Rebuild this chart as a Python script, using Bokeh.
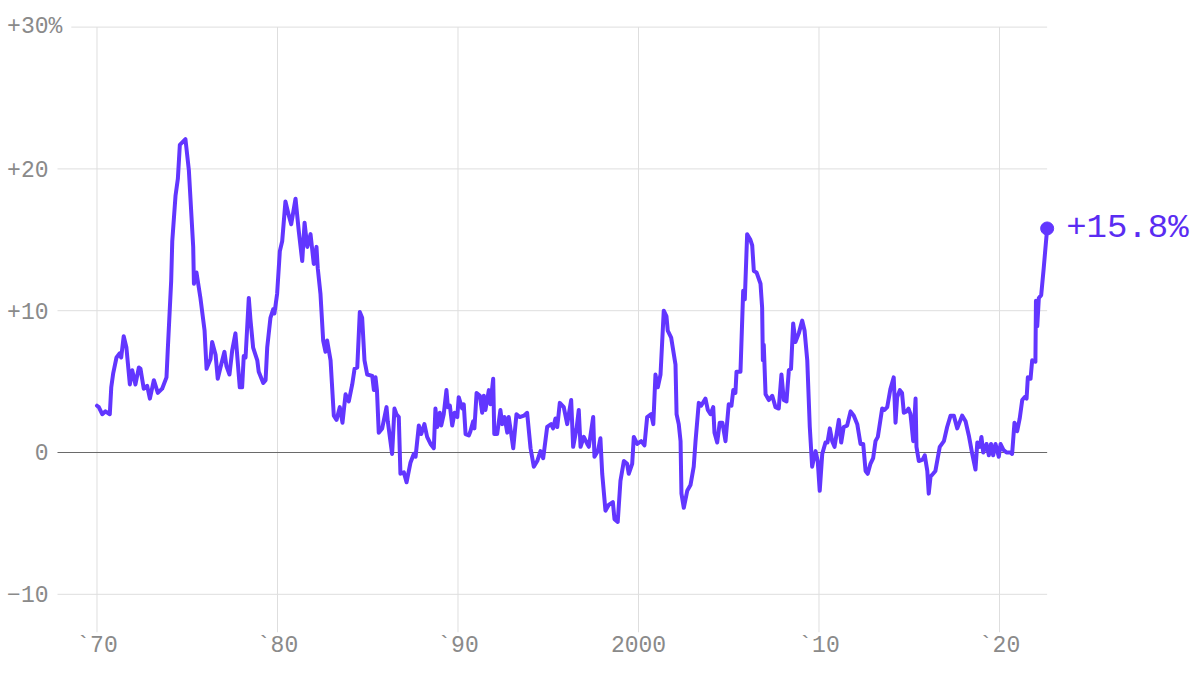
from bokeh.plotting import figure
from bokeh.models import FixedTicker, ColumnDataSource, Range1d
from bokeh.embed import file_html
from bokeh.resources import INLINE

# ---- data (year fraction, % change) ----
years = [
    1970.00, 1970.10, 1970.29, 1970.47, 1970.71, 1970.79, 1970.90, 1971.08, 1971.26, 1971.34,
    1971.48, 1971.63, 1971.82, 1971.95, 1972.13, 1972.32, 1972.41, 1972.59, 1972.78, 1972.93,
    1973.15, 1973.37, 1973.61, 1973.85, 1973.92, 1974.11, 1974.17, 1974.35, 1974.48, 1974.59,
    1974.90, 1975.09, 1975.33, 1975.37, 1975.51, 1975.73, 1975.96, 1976.07, 1976.29, 1976.38,
    1976.57, 1976.69, 1976.84, 1977.06, 1977.17, 1977.34, 1977.49, 1977.67, 1977.91, 1978.04,
    1978.13, 1978.23, 1978.41, 1978.50, 1978.65, 1978.88, 1978.96, 1979.21, 1979.34, 1979.43,
    1979.61, 1979.76, 1979.83, 1979.98, 1980.13, 1980.26, 1980.44, 1980.63, 1980.76, 1981.00,
    1981.18, 1981.37, 1981.50, 1981.65, 1981.83, 1982.01, 1982.16, 1982.23, 1982.38, 1982.53,
    1982.66, 1982.75, 1982.94, 1983.12, 1983.27, 1983.45, 1983.60, 1983.77, 1983.95, 1984.14,
    1984.27, 1984.42, 1984.56, 1984.69, 1984.82, 1984.97, 1985.25, 1985.34, 1985.43, 1985.51,
    1985.61, 1985.80, 1986.04, 1986.11, 1986.35, 1986.48, 1986.59, 1986.72, 1986.81, 1987.00,
    1987.15, 1987.37, 1987.55, 1987.65, 1987.83, 1987.96, 1988.14, 1988.29, 1988.48, 1988.66,
    1988.75, 1988.85, 1988.99, 1989.07, 1989.21, 1989.36, 1989.44, 1989.55, 1989.68, 1989.81,
    1989.96, 1990.04, 1990.23, 1990.32, 1990.42, 1990.60, 1990.69, 1990.84, 1990.91, 1991.03,
    1991.21, 1991.34, 1991.43, 1991.52, 1991.71, 1991.80, 1991.95, 1992.01, 1992.17, 1992.35,
    1992.45, 1992.58, 1992.73, 1992.81, 1992.95, 1993.06, 1993.24, 1993.42, 1993.65, 1993.83,
    1994.02, 1994.20, 1994.39, 1994.57, 1994.72, 1994.94, 1995.16, 1995.27, 1995.40, 1995.50,
    1995.64, 1995.86, 1996.05, 1996.27, 1996.38, 1996.57, 1996.69, 1996.79, 1996.97, 1997.16,
    1997.25, 1997.49, 1997.56, 1997.75, 1997.89, 1997.99, 1998.17, 1998.35, 1998.58, 1998.67,
    1998.85, 1999.00, 1999.19, 1999.37, 1999.46, 1999.65, 1999.74, 1999.93, 2000.15, 2000.33,
    2000.48, 2000.70, 2000.82, 2000.94, 2001.07, 2001.22, 2001.40, 2001.55, 2001.62, 2001.81,
    2002.05, 2002.11, 2002.23, 2002.33, 2002.38, 2002.51, 2002.70, 2002.88, 2003.06, 2003.16,
    2003.34, 2003.47, 2003.71, 2003.84, 2003.99, 2004.14, 2004.21, 2004.36, 2004.50, 2004.65,
    2004.82, 2005.00, 2005.15, 2005.25, 2005.37, 2005.43, 2005.65, 2005.80, 2005.89, 2006.02,
    2006.20, 2006.30, 2006.39, 2006.54, 2006.76, 2006.85, 2006.89, 2006.94, 2007.04, 2007.22,
    2007.41, 2007.59, 2007.77, 2007.92, 2008.05, 2008.20, 2008.33, 2008.45, 2008.57, 2008.70,
    2008.88, 2009.07, 2009.20, 2009.35, 2009.49, 2009.62, 2009.81, 2009.93, 2010.04, 2010.18,
    2010.36, 2010.47, 2010.60, 2010.73, 2010.86, 2011.10, 2011.23, 2011.37, 2011.56, 2011.75,
    2011.93, 2012.12, 2012.30, 2012.45, 2012.58, 2012.70, 2012.85, 2013.00, 2013.13, 2013.26,
    2013.50, 2013.63, 2013.78, 2013.96, 2014.14, 2014.24, 2014.33, 2014.48, 2014.60, 2014.70,
    2014.85, 2014.96, 2015.07, 2015.22, 2015.35, 2015.40, 2015.53, 2015.74, 2015.86, 2016.00,
    2016.08, 2016.18, 2016.32, 2016.45, 2016.69, 2016.92, 2017.10, 2017.29, 2017.47, 2017.66,
    2017.93, 2018.12, 2018.30, 2018.49, 2018.67, 2018.77, 2018.91, 2019.00, 2019.10, 2019.28,
    2019.41, 2019.53, 2019.65, 2019.78, 2019.96, 2020.06, 2020.21, 2020.39, 2020.61, 2020.70,
    2020.83, 2020.98, 2021.12, 2021.26, 2021.39, 2021.50, 2021.57, 2021.72, 2021.81, 2021.99,
    2022.02, 2022.09, 2022.18, 2022.31, 2022.45, 2022.64,
]
values = [
    3.3, 3.2, 2.7, 2.9, 2.7, 4.6, 5.6, 6.7, 7.0, 6.7,
    8.2, 7.4, 4.8, 5.8, 4.8, 6.0, 5.9, 4.5, 4.7, 3.8,
    5.1, 4.2, 4.5, 5.3, 7.2, 12.1, 14.9, 18.1, 19.3, 21.7,
    22.1, 19.9, 14.5, 11.9, 12.7, 10.9, 8.6, 5.9, 6.6, 7.8,
    6.9, 5.2, 6.0, 7.1, 6.1, 5.5, 7.2, 8.4, 4.6, 4.6,
    6.8, 6.7, 10.9, 9.4, 7.4, 6.5, 5.7, 4.9, 5.1, 7.4,
    9.5, 10.1, 9.8, 11.2, 14.2, 14.9, 17.7, 16.7, 16.1, 17.9,
    15.6, 13.5, 16.2, 14.5, 15.4, 13.3, 14.5, 13.0, 11.2, 7.9,
    7.1, 7.9, 6.5, 2.6, 2.3, 3.2, 2.1, 4.1, 3.6, 4.8,
    5.9, 6.0, 9.9, 9.5, 6.5, 5.5, 5.4, 4.4, 5.3, 4.4,
    1.4, 1.7, 3.2, 2.2, -0.1, 3.1, 2.7, 2.5, -1.5, -1.4,
    -2.1, -0.7, -0.1, -0.3, 1.9, 1.3, 2.0, 1.1, 0.6, 0.3,
    3.1, 1.8, 2.8, 1.9, 2.7, 4.4, 3.2, 3.3, 1.9, 2.8,
    2.5, 3.9, 3.1, 3.4, 1.3, 1.2, 1.5, 2.2, 1.7, 4.2,
    4.0, 2.8, 4.0, 3.0, 4.4, 3.4, 5.2, 1.3, 1.3, 3.0,
    2.0, 2.5, 1.4, 2.5, 1.3, 0.3, 2.7, 2.5, 2.6, 2.8,
    0.3, -1.0, -0.6, 0.1, -0.4, 1.8, 2.0, 1.7, 2.4, 1.8,
    3.5, 3.2, 2.0, 3.7, 0.4, 1.7, 3.0, 0.4, 1.1, 0.6,
    0.4, 2.5, -0.3, 0.1, 1.0, -1.5, -4.1, -3.7, -3.5, -4.7,
    -4.9, -2.0, -0.6, -0.8, -1.5, -0.8, 1.1, 0.6, 0.8, 0.5,
    2.5, 2.7, 2.0, 5.5, 4.6, 5.5, 10.0, 9.6, 8.6, 8.1,
    6.2, 2.7, 2.0, 0.8, -2.9, -3.9, -2.7, -2.3, -1.0, 0.8,
    3.5, 3.3, 3.8, 3.0, 2.7, 3.2, 1.4, 0.7, 2.1, 2.1,
    0.8, 3.4, 3.3, 4.4, 4.2, 5.7, 5.7, 11.4, 10.8, 15.4,
    15.0, 14.6, 12.8, 12.7, 11.9, 10.2, 6.5, 7.6, 4.1, 3.7,
    4.0, 3.2, 3.1, 5.5, 3.7, 3.6, 5.8, 5.9, 9.1, 7.8,
    8.4, 9.3, 8.6, 6.5, 1.8, -1.0, 0.1, -0.6, -2.7, -0.1,
    0.7, 0.7, 1.7, 0.8, 0.4, 2.3, 0.7, 1.8, 1.9, 2.9,
    2.6, 2.0, 0.6, 0.6, -1.3, -1.5, -0.8, -0.4, 0.8, 1.1,
    3.1, 3.0, 3.2, 4.5, 5.3, 2.1, 3.9, 4.4, 4.2, 2.8,
    2.9, 3.1, 2.7, 0.8, 3.8, 0.4, -0.6, -0.5, -0.2, -1.3,
    -2.9, -1.7, -1.5, -1.3, 0.4, 0.8, 1.8, 2.6, 2.6, 1.7,
    2.6, 2.2, 1.2, -0.1, -1.2, 0.7, 0.4, 1.1, 0.0, 0.6,
    -0.2, 0.6, -0.2, 0.6, -0.3, 0.6, 0.2, 0.0, 0.0, -0.1,
    2.1, 1.5, 2.4, 3.7, 3.9, 3.8, 5.3, 5.2, 6.5, 6.4,
    10.7, 8.9, 10.9, 11.1, 13.0, 15.8,
]

x_ticks = [1970, 1980, 1990, 2000, 2010, 2020]
x_labels = ["`70", "`80", "`90", "2000", "`10", "`20"]
y_ticks = [-10, 0, 10, 20, 30]
y_labels = ["\u221210", "0", "+10", "+20", "+30%"]

LINE = "#6236ff"
GRAY_TXT = "#8a8a8a"
GRID = "#dedede"
ZERO = "#6a6a6a"
FONT = "Liberation Mono"
TICK_FS = 23
CHAR_W = 0.6 * TICK_FS          # monospace advance

# frame geometry (px) and ranges -> 18.05 px / year, 14.18 px / point
FW, FH = 1200, 632
X0, X1 = 1964.654, 2031.136
Y0, Y1 = -12.694, 31.876
PXX = FW / (X1 - X0)

p = figure(frame_width=FW, frame_height=FH, output_backend="svg", toolbar_location=None,
           x_range=Range1d(X0, X1), y_range=Range1d(Y0, Y1), y_axis_location=None,
           min_border_left=0, min_border_right=0, min_border_top=0, min_border_bottom=42)
p.outline_line_color = None
p.background_fill_color = "white"
p.border_fill_color = "white"
p.xgrid.visible = False
p.ygrid.visible = False

# x axis
xa = p.xaxis[0]
xa.ticker = FixedTicker(ticks=x_ticks)
xa.major_label_overrides = {t: l for t, l in zip(x_ticks, x_labels)}
xa.axis_line_color = None
xa.major_tick_line_color = None
xa.minor_tick_line_color = None
xa.major_tick_out = 0
xa.major_label_standoff = 0
xa.major_label_text_font = FONT
xa.major_label_text_font_size = f"{TICK_FS}px"
xa.major_label_text_color = GRAY_TXT

# y labels: right edges aligned 48px from the left, "%" hangs past the column
LABEL_RIGHT = 48
label_off = [LABEL_RIGHT + (CHAR_W if l.endswith("%") else 0) for l in y_labels]
ylab = ColumnDataSource(dict(x=[X0] * len(y_ticks), y=y_ticks, text=y_labels, xo=label_off))
p.text(x="x", y="y", text="text", x_offset="xo", source=ylab, text_align="right",
       text_baseline="middle", text_font={"value": FONT},
       text_font_size=f"{TICK_FS}px", text_color=GRAY_TXT)

# grid lines: horizontal ones start 9px after their label and end with the data
hx0 = [X0 + (o + 9) / PXX for o in label_off]
hgrid = ColumnDataSource(dict(x0=[a for a, t in zip(hx0, y_ticks) if t != 0],
                              y=[t for t in y_ticks if t != 0]))
p.segment(x0="x0", x1=years[-1], y0="y", y1="y", source=hgrid, line_color=GRID,
          line_width=1)
vgrid = ColumnDataSource(dict(x=x_ticks))
p.segment(x0="x", x1="x", y0=Y0, y1=max(y_ticks), source=vgrid, line_color=GRID,
          line_width=1)
zero_x0 = hx0[y_ticks.index(0)]
p.segment(x0=[zero_x0], x1=[years[-1]], y0=[0], y1=[0], line_color=ZERO, line_width=1.2)

# data line and end marker
p.line(years, values, line_color=LINE, line_width=4, line_join="round", line_cap="round")
p.scatter([years[-1]], [values[-1]], marker="circle", size=13, fill_color=LINE,
          line_color=LINE)
p.text(x=[years[-1]], y=[values[-1]], text=[f"+{values[-1]:.1f}%"], x_offset=19,
       text_align="left", text_baseline="middle", text_font={"value": FONT},
       text_font_size="34px", text_color="#5a2cf2")

open("out.html", "w").write(file_html(p, INLINE))
